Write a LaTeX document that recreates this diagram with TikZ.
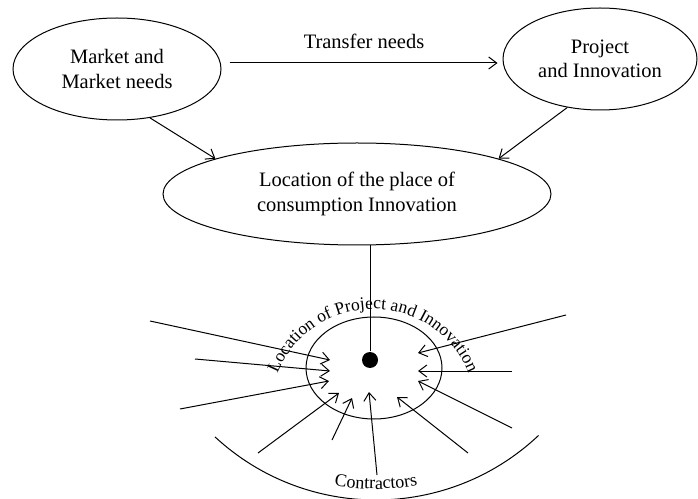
\documentclass[tikz,border=0pt]{standalone}
\usepackage{fontspec}
\setmainfont{Liberation Serif}
\usepackage{tikz}
\usetikzlibrary{calc,positioning,arrows.meta,decorations.text,shapes.geometric}

\begin{document}
\begin{tikzpicture}[x=1pt,y=1pt,line width=1pt,>={Straight Barb[length=8pt,width=12pt]}]

\tikzset{bubble/.style={font=\fontsize{20.5}{24.5}\selectfont,draw,shape=ellipse,inner sep=0pt,align=center},
hubdot/.style={fill=black,shape=circle,inner sep=0pt,minimum size=16pt},
plaintext/.style={font=\fontsize{20.5}{24.5}\selectfont,inner sep=0pt}}

\useasboundingbox (0,0) rectangle (698,498);

% Upper nodes
\node[bubble,minimum width=208pt,minimum height=102pt] (mkt) at (117,429) {Market and\\Market needs};
\node[bubble,minimum width=194pt,minimum height=102pt] (prj) at (600,439) {Project\\and Innovation};
\node[bubble,minimum width=388pt,minimum height=102pt] (loc) at (357,304) {Location of the place of\\consumption Innovation};
\node[plaintext] (tn) at (364,457) {Transfer needs};

% Site of project
\node[draw,shape=ellipse,inner sep=0pt,minimum width=136pt,minimum height=102pt] (site) at (374,130) {};
\node[hubdot] (hub) at (370,138) {};
\coordinate (top) at (373,86);
\coordinate (rim) at (376,235);

% Edges
\draw[->,shorten <=8pt,shorten >=5pt] ([yshift=6pt]mkt.east) -- ([yshift=-4pt]prj.west);
\draw[->] (mkt.-56) -- (loc.166); \draw[->] (prj.236) -- (loc.14); \draw (hub) -- (hub |- loc.south);

% Contractors
\coordinate (c1) at (150,177); \coordinate (t1) at (330,138);
\coordinate (c2) at (195,139); \coordinate (t2) at (330,127);
\coordinate (c3) at (180,89); \coordinate (t3) at (329,117);
\coordinate (c4) at (258,45); \coordinate (t4) at (339,105);
\coordinate (c5) at (332,58); \coordinate (t5) at (352,100);
\coordinate (c6) at (377,23); \coordinate (t6) at (369,106);
\coordinate (c7) at (468,45); \coordinate (t7) at (397,101);
\coordinate (c8) at (512,70); \coordinate (t8) at (418,117);
\coordinate (c9) at (512,127); \coordinate (t9) at (418,127);
\coordinate (c10) at (566,183); \coordinate (t10) at (418,145);
\draw[->] (c1) -- (t1); \draw[->] (c2) -- (t2); \draw[->] (c3) -- (t3); \draw[->] (c4) -- (t4); \draw[->] (c5) -- (t5);
\draw[->] (c6) -- (t6); \draw[->] (c7) -- (t7); \draw[->] (c8) -- (t8); \draw[->] (c9) -- (t9); \draw[->] (c10) -- (t10);

% Arcs and curved labels
\draw (rim) ++(227.2:237) arc[start angle=227.2,end angle=313.3,radius=237];
\path[decorate,decoration={text along path,text align=center,text={|\fontsize{17.5}{20}\selectfont|Location of Project and Innovation}}] (top) ++(157:103) arc[start angle=157,end angle=23,radius=103];
\path[decorate,decoration={text along path,text align=center,text={|\fontsize{18}{20}\selectfont|Contractors}}] (rim) ++(255:226) arc[start angle=255,end angle=285,radius=226];

\end{tikzpicture}
\end{document}
